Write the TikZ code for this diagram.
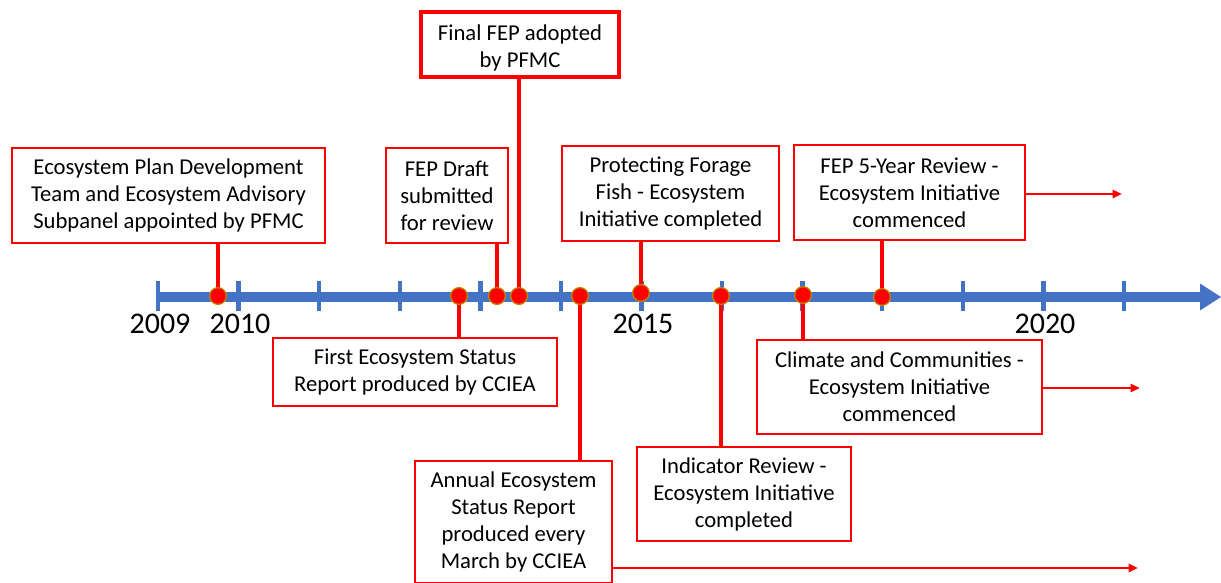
\documentclass[tikz,border=0pt]{standalone}
\usepackage{fontspec}
\setmainfont{Carlito}
\usetikzlibrary{arrows.meta}
\definecolor{axisblue}{HTML}{4472C4}
\definecolor{evred}{HTML}{FF0000}
\definecolor{dotrim}{HTML}{C08A00}
\tikzset{
  evbox/.style={draw=evred, line width=1.95pt, fill=white, align=center,
    inner sep=0pt, font=\fontsize{17}{20.25}\selectfont},
  finalbox/.style={evbox, line width=3.4pt},
  evdot/.style={circle, fill=evred, draw=dotrim, line width=0.8pt, minimum size=12.5pt, inner sep=0pt},
  stem/.style={draw=evred, line width=2.4pt},
  runon/.style={draw=evred, line width=1.8pt, -{Triangle[length=7pt,width=6pt]}},
  tick/.style={draw=axisblue, line width=3.6pt},
  yearlbl/.style={font=\fontsize{22.5}{24}\selectfont, inner sep=0pt},
}
\begin{document}
\begin{tikzpicture}[x=0.75pt, y=-0.75pt]
\useasboundingbox (0,0) rectangle (1221,582);

% time axis with year ticks
\fill[axisblue] (158,292) rectangle (1201,302);
\fill[axisblue] (1200,283.5) -- (1221,297) -- (1200,310.5) -- cycle;
\foreach \tx in {158,238.5,319,400,480.5,561,641.5,722,802.5,882,963,1043.5,1124}
  \draw[tick] (\tx,281) -- (\tx,311);

\node[yearlbl] (y2009) at (160,324) {2009};
\node[yearlbl] (y2010) at (240,324) {2010};
\node[yearlbl] (y2015) at (643,324) {2015};
\node[yearlbl] (y2020) at (1045,324) {2020};

% event dots on the axis
\node[evdot] (d1) at (218,296) {};
\node[evdot] (d2) at (459,296) {};
\node[evdot] (d3) at (497,296) {};
\node[evdot] (d4) at (519,296) {};
\node[evdot] (d5) at (580,296) {};
\node[evdot] (d6) at (641,293) {};
\node[evdot] (d7) at (721,296) {};
\node[evdot] (d8) at (803,295) {};
\node[evdot] (d9) at (882,297) {};

% event boxes
\node[evbox, minimum width=313*0.75pt, minimum height=95*0.75pt] (b1) at (168.5,195.5)
  {Ecosystem Plan Development\\Team and Ecosystem Advisory\\Subpanel appointed by PFMC};
\node[evbox, minimum width=122*0.75pt, minimum height=95*0.75pt] (b2) at (447,195.5)
  {FEP Draft\\submitted\\for review};
\node[finalbox, minimum width=198*0.75pt, minimum height=65*0.75pt] (b3) at (520,44.5)
  {\raisebox{-3pt}[\height][\depth]{\begin{tabular}{@{}c@{}}Final FEP adopted\\by PFMC\end{tabular}}};
\node[evbox, minimum width=217*0.75pt, minimum height=95*0.75pt] (b4) at (670.5,193.5)
  {Protecting Forage\\Fish - Ecosystem\\Initiative completed};
\node[evbox, minimum width=231*0.75pt, minimum height=95*0.75pt] (b5) at (909.5,192.5)
  {FEP 5-Year Review -\\Ecosystem Initiative\\commenced};
\node[evbox, minimum width=284*0.75pt, minimum height=68*0.75pt] (b6) at (415,372)
  {First Ecosystem Status\\Report produced by CCIEA};
\node[evbox, minimum width=197*0.75pt, minimum height=122*0.75pt] (b7) at (513.5,522)
  {Annual Ecosystem\\Status Report\\produced every\\March by CCIEA};
\node[evbox, minimum width=214*0.75pt, minimum height=94*0.75pt] (b8) at (744,494)
  {Indicator Review -\\Ecosystem Initiative\\completed};
\node[evbox, minimum width=285*0.75pt, minimum height=94*0.75pt] (b9) at (899.5,387)
  {Climate and Communities -\\Ecosystem Initiative\\commenced};

% free ends of the continuing arrows
\coordinate (a5) at (1122,194);
\coordinate (a9) at (1140,388);
\coordinate (a7) at (1138,568);

% stems from dots to boxes
\draw[stem] (d1.center) -- (d1 |- b1.south);
\draw[stem] (d2.center) -- (d2 |- b6.north);
\draw[stem] (d3.center) -- (d3 |- b2.south);
\draw[stem] (d4.center) -- (d4 |- b3.south);
\draw[stem] (d5.center) -- (d5 |- b7.north);
\draw[stem] (d6.center) -- (d6 |- b4.south);
\draw[stem] (d7.center) -- (d7 |- b8.north);
\draw[stem] (d8.center) -- (d8 |- b9.north);
\draw[stem] (d9.center) -- (d9 |- b5.south);

% redraw dots over their stems
\foreach \d in {d1,d2,d3,d4,d5,d6,d7,d8,d9}
  \node[evdot] at (\d) {};

% ongoing initiatives
\draw[runon] (b5.east |- a5) -- (a5);
\draw[runon] (b9.east |- a9) -- (a9);
\draw[runon] (b7.east |- a7) -- (a7);
\end{tikzpicture}
\end{document}
